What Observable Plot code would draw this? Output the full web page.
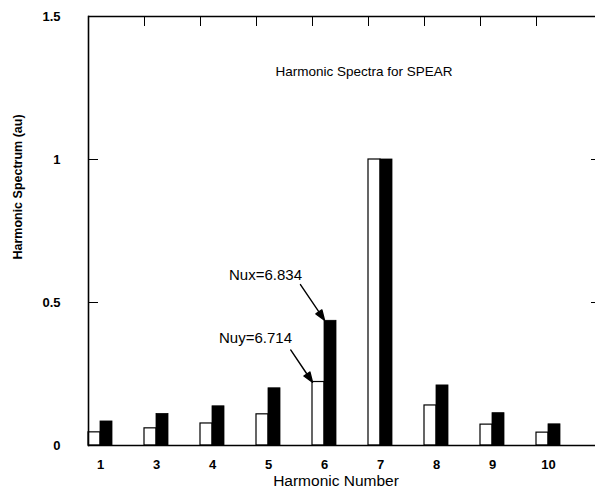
<!DOCTYPE html>
<html><head><meta charset="utf-8">
<script src="https://cdn.jsdelivr.net/npm/d3@7"></script>
<script src="https://cdn.jsdelivr.net/npm/@observablehq/plot@0.6"></script>
<style>
body{margin:0;background:#fff}
svg{font-family:"Liberation Sans",Arial,sans-serif}
</style>
</head><body><div id="chart"></div>
<script>
const harmonics = ["1","3","4","5","6","7","8","9","10"];
const nuyValues = [0.046,0.060,0.077,0.109,0.222,1.0,0.140,0.073,0.045];
const nuxValues = [0.084,0.110,0.137,0.200,0.436,1.0,0.210,0.113,0.074];
const yTicks = [0,0.5,1,1.5];
const titleText = "Harmonic Spectra for SPEAR";
const xLabel = "Harmonic Number";
const yLabel = "Harmonic Spectrum (au)";
const annotLabels = ["Nux=6.834","Nuy=6.714"];
const annotHarmonic = ["6","6"];
const annotTextY = [0.596,0.375];
const annotTipY = [0.438,0.221];

const rows = harmonics.map((h,i)=>({h, nuy: nuyValues[i], nux: nuxValues[i]}));
const annots = annotLabels.map((t,i)=>({t, h: annotHarmonic[i], ty: annotTextY[i], tip: annotTipY[i]}));

const headShape = {
  draw(ctx, l) {
    const h = 10, w = 3.6;
    ctx.moveTo(0, 0);
    ctx.lineTo(0, -l + h);
    ctx.moveTo(0, -l);
    ctx.lineTo(-w, -l + h);
    ctx.lineTo(w, -l + h);
    ctx.closePath();
  }
};

const chart = Plot.plot({
  width: 595,
  height: 493,
  marginLeft: 88,
  marginRight: 0,
  marginTop: 16,
  marginBottom: 48,
  style: {fontFamily: '"Liberation Sans", Arial, sans-serif', color: "black", background: "white"},
  x: {type: "band", domain: harmonics, paddingInner: 0.5789, paddingOuter: 0.237, align: 0},
  y: {domain: [0, 1.5]},
  marks: [
    Plot.barY(rows, {x: "h", y: "nuy", fill: "white", stroke: "black", strokeWidth: 1.2, insetRight: 12}),
    Plot.barY(rows, {x: "h", y: "nux", fill: "black", stroke: "black", strokeWidth: 0.8, insetLeft: 12}),
    Plot.ruleY([0, 1.5], {stroke: "black", strokeWidth: 1.6}),
    Plot.frame({anchor: "left", stroke: "black", strokeWidth: 1.6}),
    Plot.axisY(yTicks, {anchor: "left", tickSize: -10, tickPadding: 38, tickFormat: d => String(d), fontWeight: "bold", fontSize: 13, label: null}),
    Plot.axisY(yTicks, {anchor: "right", tickSize: -5, tickFormat: () => "", label: null}),
    Plot.axisX({anchor: "bottom", tickSize: 0, tickPadding: 14, fontWeight: "bold", fontSize: 13, label: null}),
    Plot.axisX(harmonics.slice(1), {anchor: "top", tickSize: -9, tickFormat: () => "", dx: -12, label: null}),
    Plot.text([xLabel], {frameAnchor: "bottom", dy: 40, dx: -6, fontSize: 15.5, letterSpacing: 1.8}),
    Plot.text([yLabel], {frameAnchor: "left", textAnchor: "middle", dx: -71, dy: -44, rotate: -90, fontSize: 12.5, fontWeight: "bold"}),
    Plot.text([titleText], {frameAnchor: "top", dy: 50, dx: 22, fontSize: 13.5, letterSpacing: 0.7}),
    Plot.text(annots.slice(0,1), {x: "h", y: "ty", text: "t", dx: -59, fontSize: 15, letterSpacing: 1.3}),
    Plot.text(annots.slice(1,2), {x: "h", y: "ty", text: "t", dx: -69, fontSize: 15, letterSpacing: 1.3}),
    Plot.vector(annots.slice(0,1), {x: "h", y: "tip", length: 43, rotate: 146, anchor: "end", shape: headShape, stroke: "black", fill: "black", strokeWidth: 1.4}),
    Plot.vector(annots.slice(1,2), {x: "h", y: "tip", length: 39, rotate: 146, anchor: "end", dx: -12, shape: headShape, stroke: "black", fill: "black", strokeWidth: 1.4})
  ]
});
document.getElementById("chart").append(chart);
</script>
</body></html>
